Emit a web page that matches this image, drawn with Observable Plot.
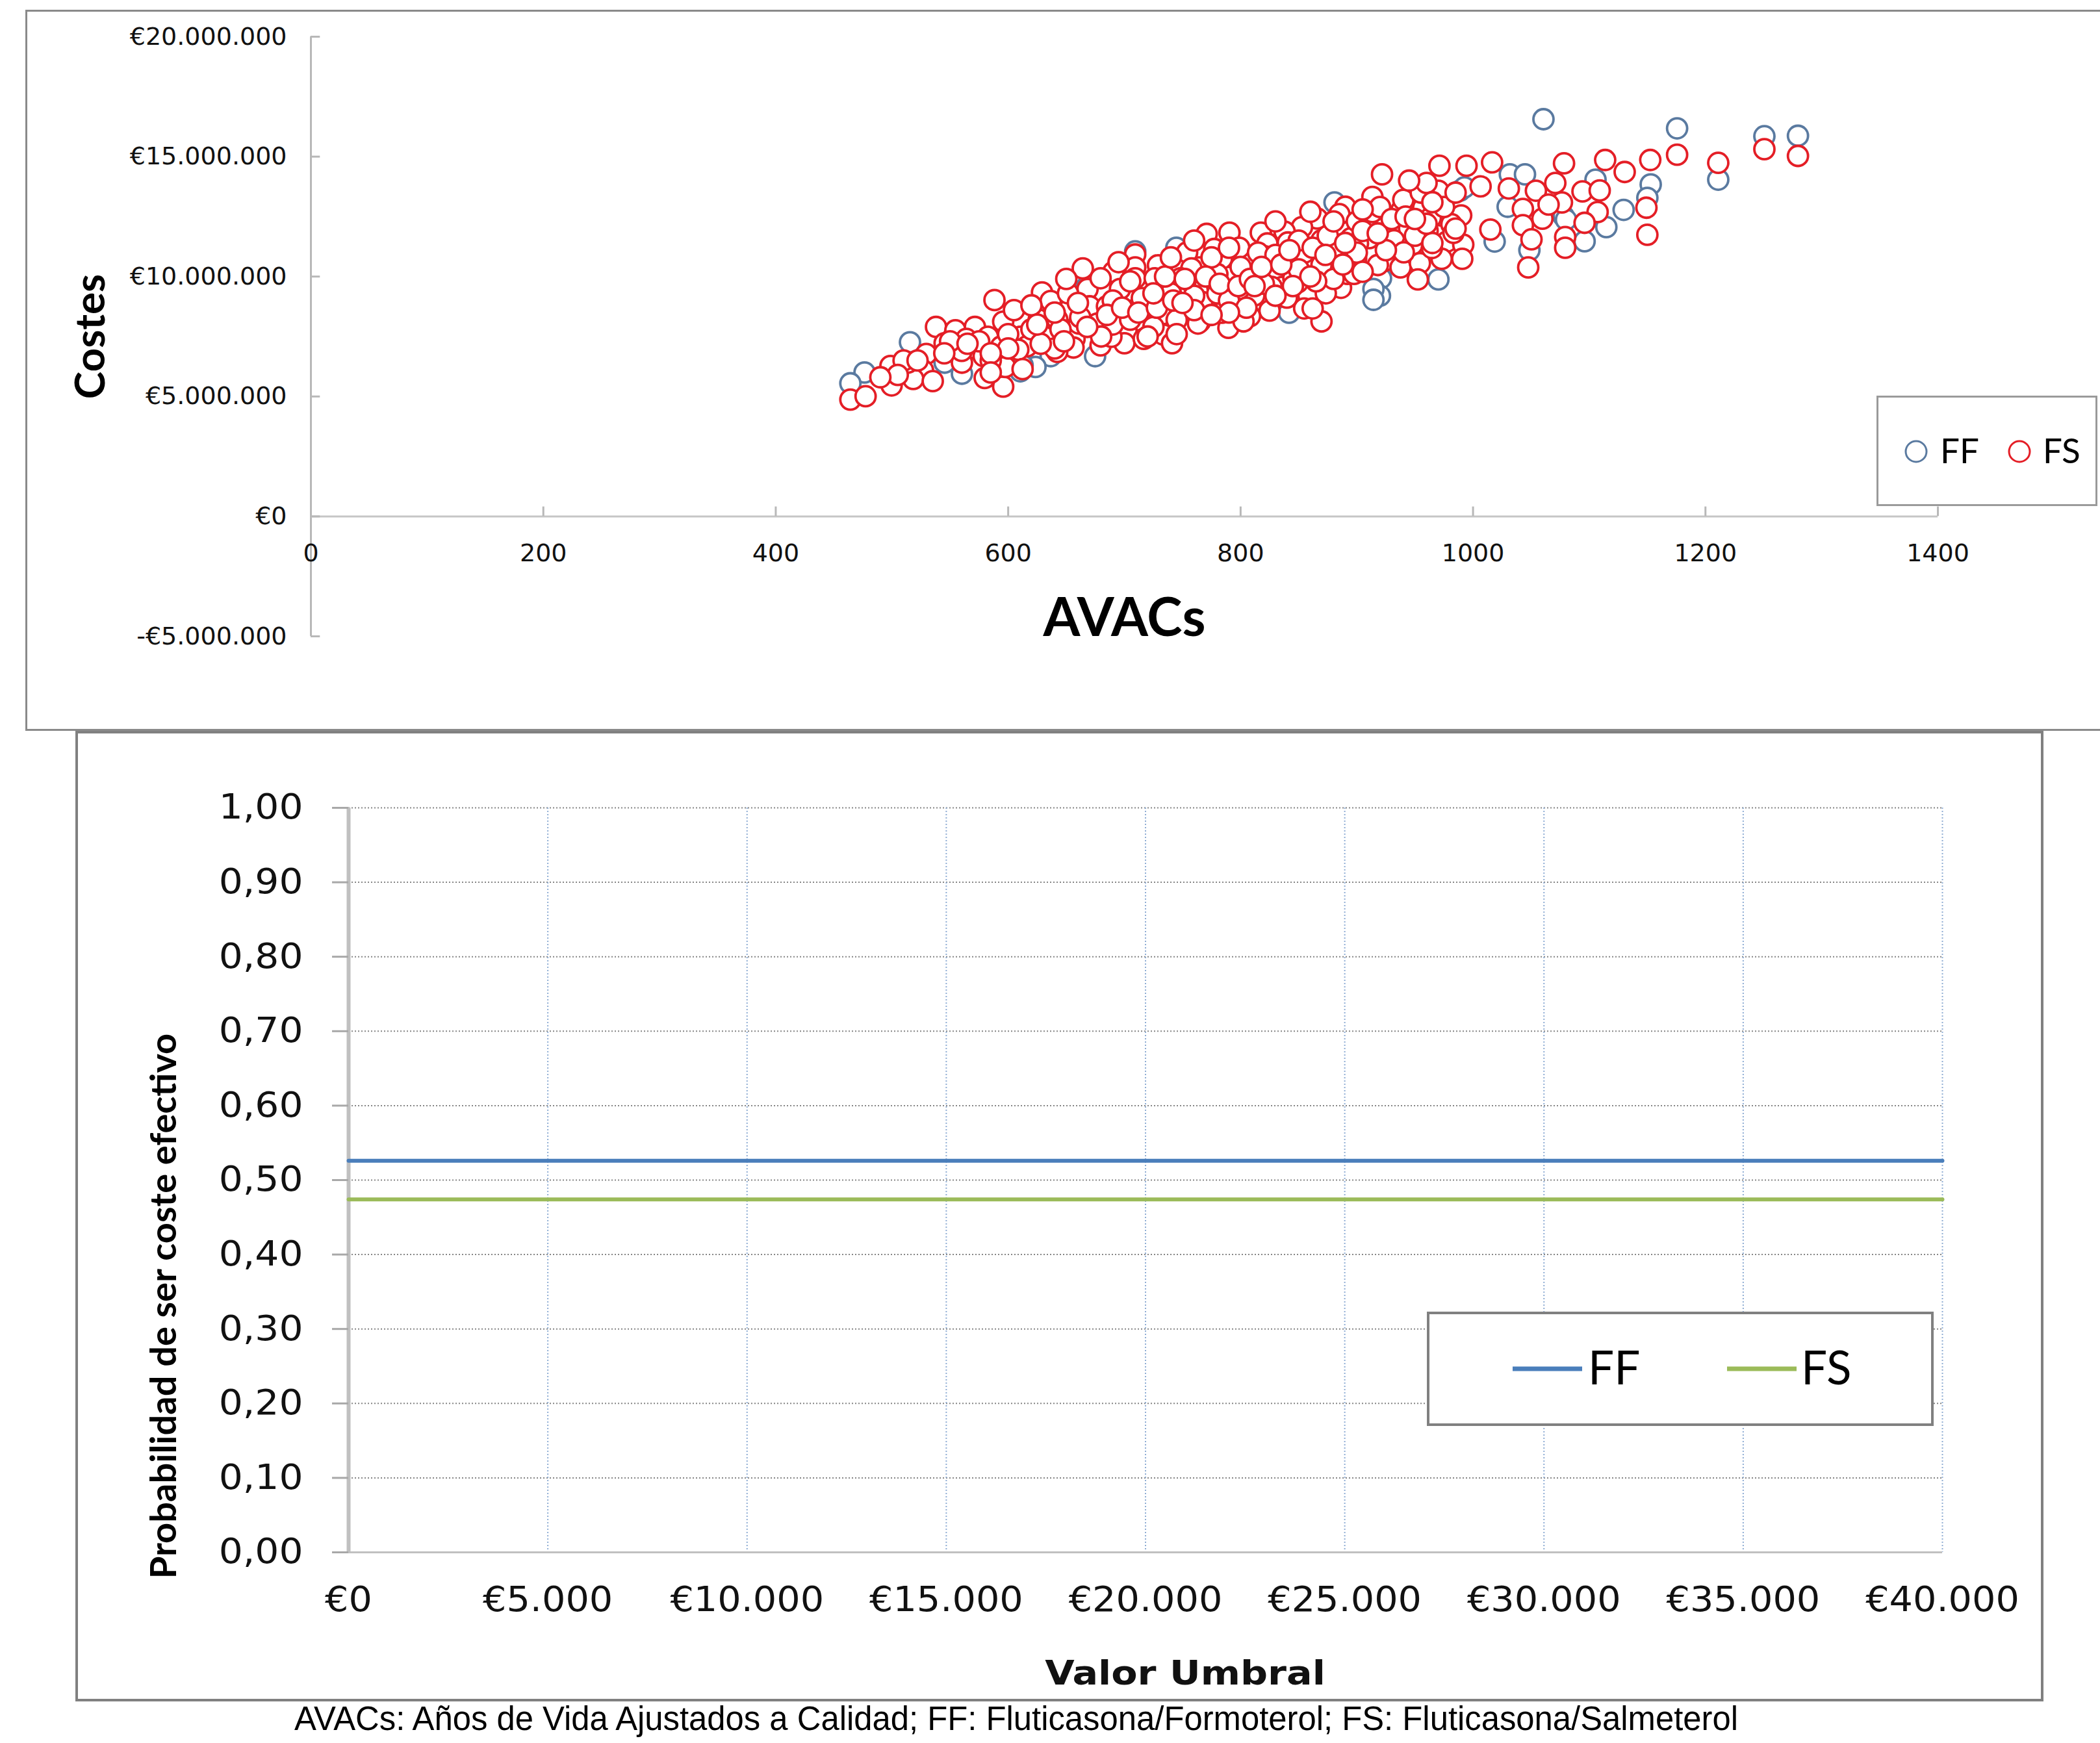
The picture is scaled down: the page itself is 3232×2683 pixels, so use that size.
<!DOCTYPE html>
<html><head><meta charset="utf-8">
<script src="https://cdn.jsdelivr.net/npm/d3@7"></script>
<script src="https://cdn.jsdelivr.net/npm/@observablehq/plot@0.6"></script>
<style>
html,body{margin:0;padding:0;background:#fff;}
#page{position:relative;width:3232px;height:2683px;overflow:hidden;background:#fff;}
.box{position:absolute;box-sizing:border-box;background:transparent;}
#topChart,#bottomChart{position:absolute;}
#overlay{position:absolute;left:0;top:0;}
</style></head>
<body><div id="page">
<div class="box" style="left:39px;top:15px;width:3300px;height:1110px;border:3px solid #8a8a8a;"></div>
<div class="box" style="left:116px;top:1125px;width:3029px;height:1494px;border:4px solid #808080;"></div>
<div id="topChart" style="left:39px;top:16px;"></div>
<div id="bottomChart" style="left:117px;top:1127px;"></div>
</div>
<script>
// ---- Scatter (top): AVACs vs costes (millions of euros) ----
const ffAvac = [1175.6,1211,1250.7,1279.6,1105.4,1152.9,1150,1129.6,1114.7,1096,1078,1060.6,1031.7,1044.7,988.8,1029.8,1048.5,1080,970.2,920.8,919.9,1018.6,992.6,880.8,914.3,914.3,841.7,744.7,709.3,674.8,636.6,623.5,610.5,515.5,545.3,560.2,476.4,464.2,612.4,668];
const ffCost = [16.18,14.04,15.85,15.87,14.04,13.84,13.28,12.78,12.06,11.47,12.51,16.56,14.26,14.26,13.58,12.91,11.10,12.37,9.88,9.93,9.20,11.46,13.72,13.09,9.48,9.03,8.49,11.20,11.05,6.68,6.68,6.23,6.05,7.26,6.41,5.95,6.00,5.55,6.30,9.60];
const fsAvac = [1175.6,1211,1250.7,1279.6,1152.5,1113.7,1130.5,1078.3,1094.2,1109,1149.2,1107.2,1096,1150,1079.3,1079.3,1076.5,971.1,994.4,1016.4,970.2,1006.5,1030.8,1054.1,1070.8,1042.9,1059.7,1042.9,1050.3,1047.5,921.7,938.5,957.1,925.5,945,972,989.8,1014.9,932,947.8,977.6,991.6,960.9,923.6,937.6,954.3,973,990.7,952.5,913.4,890.1,865.9,913.4,910.6,884.5,852.8,837.9,817.4,790.4,770.8,823,840.7,869.6,777.3,802.5,845.4,869.6,899.4,918.1,764.3,789.5,811.8,828.6,886.4,858.4,873.3,811.8,769,773.6,795,824.9,808.1,869.6,789.5,765.2,754,709.3,664.2,690.6,709.3,728.9,757.7,696.2,718.6,735.4,668.3,629.1,636.6,651.5,670.1,703.7,733.5,754,767,610.5,626.3,676.7,716.7,763.3,701.8,631,657.1,610.5,616.1,733.5,700,656.2,679.5,741,588.2,595.7,537.9,554.6,571.4,582.6,529.5,572.4,593.8,608.7,498.7,526.7,560.2,579.8,595.7,597.5,612.4,499.7,518.3,535.1,464.2,477.3,
849,836,892,901,884.5,858.4,798.8,783.9,821,780,798.8,826.7,845.4,897.6,783.9,802.5,839.8,854.7,862,963.7,981.4,964.6,940.4,983.2,685,716.7,688.8,642.2,660.8,728,709.3,679.5,726.1,748.4,651.5,746.6,688.8,716.7,642.2,564,545.3,513.6,578.9,
560,585,620,645,662,690,705,725,745,690,715,740,760,780,650,695,735,780,800,815,830,855,880,895,850,830,860,885,900,940,955,920,950,965,985,960,945,1065,820,850,900,925,905,880,865,790,805,760,745,720,680,640,600,575,550,545,510,605,620,740,775,760,790,
628,648,668,685,698,712,728,742,752,770,782,798,808,818,835,842,862,875,890,905,918,930,942,960,975,985,965,950,905,880,873,888,860,845,830,812,790,775,750,725,705,660,640,625,600,585,565,522,505,490,585];
const fsCost = [15.08,14.74,15.31,15.03,14.86,14.86,14.36,14.72,13.55,13.59,12.87,12.69,12.24,11.74,11.65,11.20,13.09,14.62,14.62,14.76,13.58,13.76,13.67,13.58,13.90,12.82,12.41,12.14,11.55,10.38,14.26,12.77,12.86,12.23,12.00,12.55,12.55,11.96,11.51,11.33,11.46,11.33,11.91,10.65,10.38,10.56,10.74,10.74,9.88,13.32,12.91,12.42,12.69,11.60,12.10,12.06,11.87,11.83,11.83,11.78,11.38,11.42,11.51,11.15,10.75,10.66,10.48,10.75,10.48,10.38,9.98,10.07,10.20,9.53,9.21,9.30,9.21,9.57,8.76,8.99,8.58,8.35,8.13,7.86,8.13,11.01,10.92,10.34,10.20,10.38,10.47,10.34,9.48,9.52,9.66,9.48,9.34,8.98,8.58,8.76,8.58,8.44,8.58,8.94,8.21,8.21,8.04,8.04,8.04,7.76,7.49,7.40,7.49,7.09,7.58,7.22,7.04,7.13,7.22,9.02,8.12,7.90,7.76,7.90,7.49,6.77,6.99,7.08,6.95,6.27,6.09,6.41,5.77,5.41,6.23,6.14,5.46,5.73,5.64,4.87,5.01,
9.75,9.57,10.11,11.38,11.20,11.20,11.20,10.75,10.84,9.57,9.48,9.57,9.93,10.11,8.49,8.13,9.12,8.67,8.67,12.46,12.18,11.19,11.01,11.82,8.76,8.76,8.31,8.21,8.04,8.94,9.93,9.93,9.93,9.93,9.30,9.12,7.49,7.40,6.86,7.40,7.22,6.41,6.68,
6.9,6.5,7.8,7.8,8.3,8.0,8.2,7.9,8.2,9.0,9.1,9.3,9.2,9.3,9.9,10.6,10.0,10.1,10.4,11.0,10.9,11.0,11.0,11.6,11.5,12.3,12.7,12.6,12.3,13.2,13.5,12.9,11.7,11.4,12.0,13.9,14.0,13.0,9.7,10.3,11.0,11.1,10.2,9.9,9.8,9.0,8.7,8.6,7.6,7.5,7.5,7.0,7.6,7.3,7.3,6.8,6.5,8.6,8.8,10.8,10.8,11.5,11.2,
7.2,7.3,7.9,8.4,8.7,8.5,8.7,9.0,9.9,10.0,9.7,9.6,9.9,10.4,10.5,11.1,11.2,11.7,11.4,11.9,11.8,12.4,12.5,12.2,12.9,13.5,13.1,12.4,12.8,12.3,10.9,10.5,10.0,9.6,9.2,9.6,8.5,8.4,8.9,9.3,9.8,8.9,8.5,8.0,7.0,6.8,7.2,6.5,5.9,5.8,6.0];
const avacTicks = [0,200,400,600,800,1000,1200,1400];
const costTicks = [-5,0,5,10,15,20]; // millions of euros
const costTickLabels = ["-€5.000.000","€0","€5.000.000","€10.000.000","€15.000.000","€20.000.000"];
const seriesNames = ["FF","FS"];
const seriesColors = ["#5a7aa0","#e41e26"];

// ---- Acceptability curve (bottom) ----
const thresholds = [0,5000,10000,15000,20000,25000,30000,35000,40000];
const thresholdLabels = ["€0","€5.000","€10.000","€15.000","€20.000","€25.000","€30.000","€35.000","€40.000"];
const ffProb = [0.526,0.526,0.526,0.526,0.526,0.526,0.526,0.526,0.526];
const fsProb = [0.474,0.474,0.474,0.474,0.474,0.474,0.474,0.474,0.474];
const probTicks = [0,0.1,0.2,0.3,0.4,0.5,0.6,0.7,0.8,0.9,1];
const probTickLabels = ["0,00","0,10","0,20","0,30","0,40","0,50","0,60","0,70","0,80","0,90","1,00"];
const lineColors = ["#4a7ebb","#9bbb59"];
const caption = "AVACs: Años de Vida Ajustados a Calidad; FF: Fluticasona/Formoterol; FS: Fluticasona/Salmeterol";

const ff = ffAvac.map((a,i)=>({avac:a, cost:ffCost[i]}));
const fs = fsAvac.map((a,i)=>({avac:a, cost:fsCost[i]}));
const axisGrey = "#b8b8b8";
const ink = "#111";

const topPlot = Plot.plot({
  width: 3193, height: 1107,
  marginLeft: 439, marginRight: 250, marginTop: 40, marginBottom: 144,
  style: {background:"transparent", overflow:"visible"},
  x: {domain:[0,1400], axis:null},
  y: {domain:[-5,20], axis:null},
  marks: [
    Plot.ruleX([0], {stroke:axisGrey, strokeWidth:3}),
    Plot.ruleY([0], {stroke:"#c6c6c6", strokeWidth:3}),
    Plot.ruleX(avacTicks.slice(1), {x:d=>d, y1:0, y2:0.4, stroke:axisGrey, strokeWidth:3}),
    Plot.ruleY(costTicks, {y:d=>d, x1:0, x2:8, stroke:axisGrey, strokeWidth:3}),
    Plot.text(avacTicks, {x:d=>d, y:0, text:d=>String(d), dy:57, fontSize:38, fontFamily:"DejaVu Sans", fill:ink}),
    Plot.text(costTicks, {x:0, y:d=>d, text:(d,i)=>costTickLabels[i], textAnchor:"end", dx:-37, fontSize:38, fontFamily:"DejaVu Sans", fill:ink}),
    Plot.dot(ff, {x:"avac", y:"cost", r:15.5, stroke:seriesColors[0], strokeWidth:3.8, fill:"white"}),
    Plot.dot(fs, {x:"avac", y:"cost", r:15.5, stroke:seriesColors[1], strokeWidth:3.8, fill:"white"}),
    Plot.text(["Costes"], {text:d=>d, frameAnchor:"left", textAnchor:"middle", lineAnchor:"middle", rotate:-90, dx:-338, fontSize:64, fontWeight:700, fontFamily:"Lato", fill:"#000"}),
    Plot.text(["AVACs"], {text:d=>d, frameAnchor:"bottom", textAnchor:"middle", lineAnchor:"middle", dy:-27, fontSize:82, fontWeight:700, fontFamily:"Lato", fill:"#000"})
  ]
});
document.getElementById("topChart").appendChild(topPlot);

const bottomPlot = Plot.plot({
  width: 3026, height: 1491,
  marginLeft: 419, marginRight: 154, marginTop: 116, marginBottom: 229,
  style: {background:"transparent", overflow:"visible"},
  x: {domain:[0,40000], axis:null},
  y: {domain:[0,1], axis:null},
  marks: [
    Plot.ruleY(probTicks.slice(1), {y:d=>d, stroke:"#858585", strokeWidth:2, strokeDasharray:"2,3"}),
    Plot.ruleX(thresholds.slice(1), {x:d=>d, stroke:"#8fadd4", strokeWidth:2, strokeDasharray:"2,3"}),
    Plot.ruleY([0], {stroke:"#c0c0c0", strokeWidth:3}),
    Plot.ruleX([0], {stroke:"#c0c0c0", strokeWidth:6}),
    Plot.axisY({ticks:probTicks, tickFormat:d=>probTickLabels[probTicks.indexOf(d)], tickSize:25, tickPadding:45, stroke:"#a8a8a8", strokeWidth:3, fill:ink, fontSize:53, fontFamily:"DejaVu Sans", label:null}),
    Plot.axisX({ticks:thresholds, tickFormat:d=>thresholdLabels[thresholds.indexOf(d)], tickSize:0, tickPadding:53, fill:ink, fontSize:53, fontFamily:"DejaVu Sans", label:null}),
    Plot.line(thresholds, {x:d=>d, y:(d,i)=>ffProb[i], stroke:lineColors[0], strokeWidth:6}),
    Plot.line(thresholds, {x:d=>d, y:(d,i)=>fsProb[i], stroke:lineColors[1], strokeWidth:6}),
    Plot.text(["Probabilidad de ser coste efectivo"], {text:d=>d, frameAnchor:"left", textAnchor:"middle", lineAnchor:"middle", rotate:-90, dx:-283, dy:194, fontSize:56, fontWeight:700, fontFamily:"Lato", fill:"#000"}),
    Plot.text(["Valor Umbral"], {text:d=>d, frameAnchor:"bottom", textAnchor:"middle", lineAnchor:"middle", dx:61, dy:187, fontSize:52, fontWeight:700, fontFamily:"DejaVu Sans", fill:"#111"})
  ]
});
document.getElementById("bottomChart").appendChild(bottomPlot);

// widen glyphs horizontally, as in the stretched original
function stretch(sel, f) {
  sel.each(function(){
    const L = this.getComputedTextLength();
    if (L > 0) { this.setAttribute("textLength", (L*f).toFixed(1)); this.setAttribute("lengthAdjust","spacingAndGlyphs"); }
  });
}
const bsel = d3.select(bottomPlot);
stretch(bsel.selectAll('g[aria-label="y-axis tick label"] text'), 1.1);
stretch(bsel.selectAll('g[aria-label="x-axis tick label"] text'), 1.08);
stretch(bsel.selectAll("text").filter(function(){return this.textContent === "Valor Umbral";}), 1.13);

// ---- legends and caption (overlay) ----
const ov = d3.select("#page").append("svg").attr("id","overlay").attr("width",3232).attr("height",2683);
ov.append("rect").attr("x",2889.5).attr("y",610.5).attr("width",337).attr("height",167).attr("fill","white").attr("stroke","#9a9a9a").attr("stroke-width",3);
[[2949,2986],[3108,3144]].forEach(([cx,tx],i)=>{
  ov.append("circle").attr("cx",cx).attr("cy",695).attr("r",16).attr("fill","white").attr("stroke",seriesColors[i]).attr("stroke-width",3);
  ov.append("text").attr("x",tx).attr("y",713).attr("font-family","Lato").attr("font-size",53).attr("fill","#000").text(seriesNames[i]);
});
ov.append("rect").attr("x",2198).attr("y",2021).attr("width",776).attr("height",172).attr("fill","white").attr("stroke","#808080").attr("stroke-width",4);
[[2328,2444],[2658,2772]].forEach(([lx,tx],i)=>{
  ov.append("line").attr("x1",lx).attr("x2",lx+107).attr("y1",2107).attr("y2",2107).attr("stroke",lineColors[i]).attr("stroke-width",7);
  ov.append("text").attr("x",tx).attr("y",2131).attr("font-family","Lato").attr("font-size",71).attr("fill","#000").text(seriesNames[i]);
});
ov.append("text").attr("x",453).attr("y",2663).attr("font-family","Liberation Sans, Arial, sans-serif").attr("font-size",51)
  .attr("fill","#000").attr("textLength",2222).attr("lengthAdjust","spacingAndGlyphs").text(caption);
</script>
</body></html>
